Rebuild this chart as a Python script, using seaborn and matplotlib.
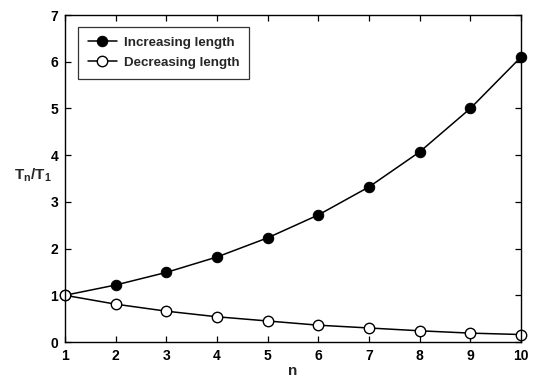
import matplotlib
matplotlib.use("Agg")
import matplotlib.pyplot as plt
import seaborn as sns
import pandas as pd

n = [1, 2, 3, 4, 5, 6, 7, 8, 9, 10]
increasing = [1.0, 1.22, 1.49, 1.82, 2.23, 2.72, 3.32, 4.07, 5.0, 6.1]
decreasing = [1.0, 0.81, 0.66, 0.54, 0.45, 0.36, 0.30, 0.24, 0.19, 0.16]
x_ticks = [1, 2, 3, 4, 5, 6, 7, 8, 9, 10]
y_ticks = [0, 1, 2, 3, 4, 5, 6, 7]

sns.set_theme(style="ticks")
plt.rcParams["font.family"] = ["Liberation Sans", "DejaVu Sans"]
plt.rcParams["font.weight"] = "bold"

df = pd.DataFrame({"n": n + n,
                   "ratio": increasing + decreasing,
                   "series": ["Increasing length"] * len(n) + ["Decreasing length"] * len(n)})

fig = plt.figure(figsize=(5.34, 3.8), dpi=100)
ax = fig.add_axes([0.1217, 0.1, 0.854, 0.8605])

sub_inc = df[df.series == "Increasing length"]
sub_dec = df[df.series == "Decreasing length"]
sns.lineplot(data=sub_inc, x="n", y="ratio", ax=ax, color="black", lw=1.1,
             marker="o", markersize=7.5, markerfacecolor="black", markeredgecolor="black",
             label="Increasing length", clip_on=False)
sns.lineplot(data=sub_dec, x="n", y="ratio", ax=ax, color="black", lw=1.1,
             marker="o", markersize=7.5, markerfacecolor="white", markeredgecolor="black",
             markeredgewidth=1.0, label="Decreasing length", clip_on=False)

ax.set_xlim(1, 10)
ax.set_ylim(0, 7)
ax.set_xticks(x_ticks)
ax.set_yticks(y_ticks)
ax.tick_params(direction="in", top=True, right=True, length=4, width=0.9,
               labelsize=10, colors="black", pad=5)
for lbl in ax.get_xticklabels() + ax.get_yticklabels():
    lbl.set_fontweight("bold")
for s in ax.spines.values():
    s.set_color("black")
    s.set_linewidth(1.0)

ax.set_xlabel("n", fontsize=11, fontweight="bold")
ax.xaxis.set_label_coords(0.5, -0.088)
ax.xaxis.label.set_va("center")
ax.set_ylabel(r"T$_\mathregular{n}$/T$_\mathregular{1}$", fontsize=11, fontweight="bold",
              rotation=0, va="center")
ax.yaxis.set_label_coords(-0.07, 0.51)

leg = ax.legend(loc="upper left", bbox_to_anchor=(0.013, 0.985), frameon=True, fancybox=False,
                edgecolor="black", fontsize=9.6, handlelength=2.2, borderpad=0.75,
                labelspacing=0.55, handletextpad=0.5)
leg.get_frame().set_linewidth(0.9)
for t in leg.get_texts():
    t.set_fontweight("bold")

fig.savefig("out.png", dpi=100, facecolor="white")
